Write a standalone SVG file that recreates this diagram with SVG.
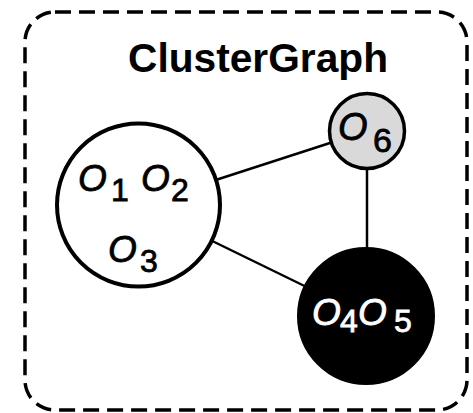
<svg xmlns="http://www.w3.org/2000/svg" width="473" height="413" viewBox="0 0 473 413">
<style>
.border{fill:none;stroke:#000;stroke-width:3.5;stroke-dasharray:16 8}
.edge{stroke:#000;stroke-width:2.5;fill:none}
.node{stroke:#000;stroke-width:4}
.lbl{font-family:"Liberation Sans",Arial,sans-serif;font-size:37px;font-style:italic;stroke-width:0.8}
.sub{font-style:normal;font-size:32px}
.dark{fill:#000;stroke:#000}
.light{fill:#fff;stroke:#fff}
.title{font-family:"Liberation Sans",Arial,sans-serif;font-weight:bold;font-size:41px}
</style>
<rect class="border" x="25" y="12" width="442" height="398" rx="30" ry="30"/>
<text class="title" x="128" y="72" textLength="260" lengthAdjust="spacingAndGlyphs">ClusterGraph</text>
<g id="connectors">
<line class="edge" x1="138.5" y1="205" x2="367" y2="131"/>
<line class="edge" x1="138.5" y1="205" x2="366" y2="316"/>
<line class="edge" x1="367" y1="131" x2="367" y2="316"/>
</g>
<g id="n123">
<circle class="node" cx="138.5" cy="205" r="81.5" fill="#fff"/>
<text class="lbl dark" x="78" y="191">O<tspan class="sub" x="111" y="201">1</tspan></text>
<text class="lbl dark" x="141" y="191">O<tspan class="sub" x="171" y="201">2</tspan></text>
<text class="lbl dark" x="108" y="262">O<tspan class="sub" x="140" y="272">3</tspan></text>
</g>
<g id="n6">
<circle class="node" cx="367" cy="131" r="37.5" fill="#d9d9d9" style="stroke-width:3.5"/>
<text class="lbl dark" x="338" y="140" style="font-size:38px">O<tspan class="sub" x="373" y="152" style="font-size:34px">6</tspan></text>
</g>
<g id="n45">
<circle class="node" cx="366" cy="316" r="67" fill="#000"/>
<text class="lbl light" x="312" y="325">O<tspan class="sub" x="340" y="332">4</tspan></text>
<text class="lbl light" x="358" y="325">O<tspan class="sub" x="394" y="332">5</tspan></text>
</g>
</svg>
